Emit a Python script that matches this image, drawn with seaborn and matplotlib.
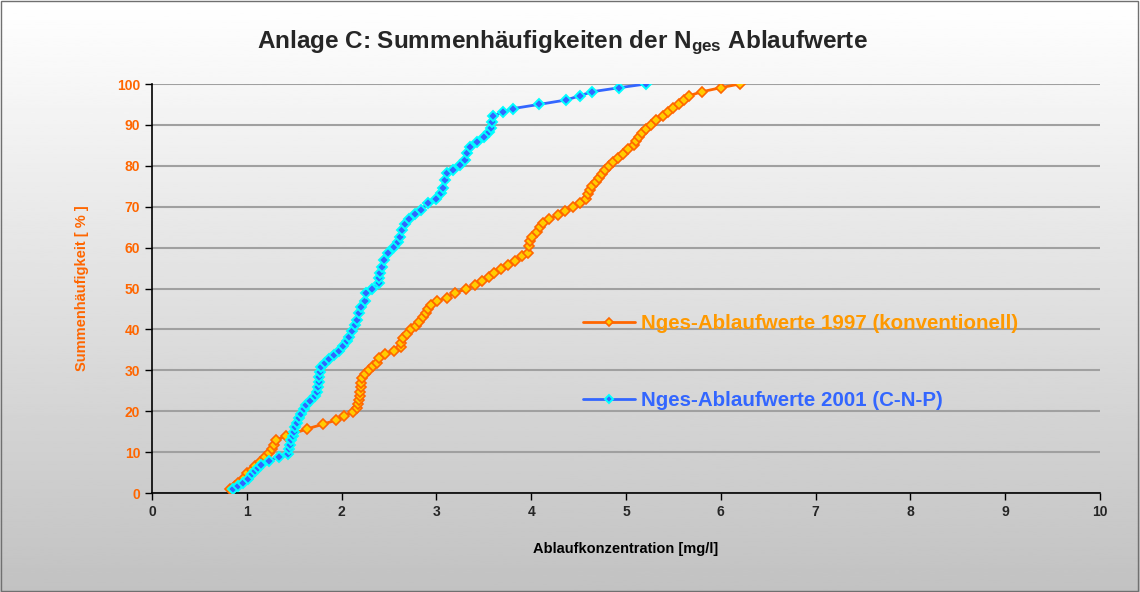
import numpy as np
import pandas as pd
import matplotlib
matplotlib.use("Agg")
import matplotlib.pyplot as plt
import seaborn as sns
from matplotlib.patches import Rectangle

# Summenhaeufigkeiten 1997 (konventionell): Konzentration [mg/l] / Summe [%]
x_1997 = [0.82, 0.88, 0.91, 0.97, 1.00, 1.05, 1.09, 1.14, 1.19, 1.23, 1.27, 1.29, 1.31,
          1.41, 1.64, 1.80, 1.94, 2.03, 2.12, 2.16, 2.17, 2.18, 2.19, 2.19, 2.21, 2.21,
          2.22, 2.25, 2.29, 2.33, 2.37, 2.40, 2.46, 2.55, 2.63, 2.63, 2.65, 2.69, 2.73,
          2.78, 2.82, 2.86, 2.89, 2.91, 2.94, 3.01, 3.11, 3.20, 3.31, 3.41, 3.48, 3.55,
          3.61, 3.68, 3.76, 3.83, 3.90, 3.97, 3.98, 3.99, 4.01, 4.06, 4.09, 4.13, 4.19,
          4.28, 4.36, 4.44, 4.51, 4.58, 4.60, 4.62, 4.64, 4.68, 4.72, 4.75, 4.78, 4.82,
          4.86, 4.92, 4.97, 5.02, 5.08, 5.11, 5.14, 5.17, 5.21, 5.26, 5.32, 5.39, 5.44,
          5.50, 5.56, 5.61, 5.66, 5.80, 6.00, 6.20]
y_1997 = [0.9, 1.8, 2.5, 3.6, 4.8, 5.7, 6.6, 7.7, 8.7, 9.7, 10.7, 11.7, 13.0,
          13.9, 15.7, 16.8, 17.8, 18.8, 19.9, 20.7, 21.8, 22.7, 23.8, 24.8, 25.8, 26.8,
          28.0, 29.1, 30.1, 31.0, 31.9, 32.9, 33.9, 34.8, 35.8, 36.8, 37.8, 38.9, 40.0,
          40.8, 41.9, 43.0, 43.9, 45.0, 46.0, 46.9, 47.8, 48.9, 49.9, 50.9, 51.9, 52.9,
          53.9, 54.8, 55.7, 56.8, 57.9, 58.8, 60.3, 61.5, 62.7, 63.9, 65.0, 66.0, 67.0,
          68.0, 69.0, 70.0, 71.0, 72.0, 73.0, 74.0, 75.0, 76.0, 77.0, 78.0, 79.0, 80.0,
          81.0, 82.0, 83.0, 84.0, 85.0, 86.0, 87.0, 88.0, 89.0, 90.0, 91.1, 92.1, 93.1,
          94.1, 95.1, 96.1, 97.1, 98.1, 99.1, 100.0]

# Summenhaeufigkeiten 2001 (C-N-P)
x_2001 = [0.85, 0.91, 0.96, 1.01, 1.06, 1.09, 1.12, 1.15, 1.23, 1.34, 1.43, 1.45, 1.46,
          1.47, 1.49, 1.50, 1.51, 1.53, 1.55, 1.57, 1.60, 1.63, 1.67, 1.72, 1.74, 1.75,
          1.76, 1.76, 1.77, 1.78, 1.82, 1.87, 1.92, 1.97, 2.02, 2.06, 2.08, 2.11, 2.14,
          2.16, 2.18, 2.21, 2.25, 2.26, 2.32, 2.39, 2.39, 2.41, 2.43, 2.45, 2.49, 2.55,
          2.59, 2.62, 2.64, 2.67, 2.71, 2.77, 2.84, 2.91, 3.00, 3.05, 3.07, 3.09, 3.11,
          3.18, 3.25, 3.30, 3.32, 3.35, 3.43, 3.50, 3.55, 3.58, 3.59, 3.60, 3.70, 3.81,
          4.08, 4.37, 4.51, 4.64, 4.93, 5.21]
y_2001 = [1.0, 1.7, 2.5, 3.4, 4.6, 5.5, 6.2, 6.9, 7.9, 8.9, 9.5, 10.7, 11.7,
          13.0, 13.9, 15.0, 16.1, 17.2, 18.3, 19.3, 20.5, 21.5, 22.6, 23.7, 24.8, 26.0,
          27.2, 28.4, 29.7, 30.7, 31.9, 32.7, 33.7, 34.8, 36.0, 37.1, 38.2, 39.6, 41.0,
          42.3, 44.0, 45.5, 47.0, 48.8, 49.8, 51.3, 52.6, 53.7, 55.3, 57.0, 58.6, 60.2,
          61.4, 62.7, 64.3, 65.7, 67.0, 68.1, 69.2, 71.0, 71.9, 73.3, 74.5, 76.5, 78.2,
          79.0, 80.2, 81.4, 83.1, 84.7, 85.9, 87.0, 88.2, 89.2, 90.8, 92.2, 93.1, 94.0,
          95.0, 96.1, 97.1, 98.1, 99.1, 100.0]

x_ticks = list(range(0, 11))
y_ticks = list(range(0, 101, 10))

df97 = pd.DataFrame({"x": x_1997, "y": y_1997})
df01 = pd.DataFrame({"x": x_2001, "y": y_2001})

sns.set_style("white")
plt.rcParams["font.family"] = ["Liberation Sans", "DejaVu Sans"]
plt.rcParams["mathtext.fontset"] = "custom"
plt.rcParams["mathtext.rm"] = "Liberation Sans:bold"
plt.rcParams["mathtext.it"] = "Liberation Sans:bold"
plt.rcParams["mathtext.bf"] = "Liberation Sans:bold"

fig = plt.figure(figsize=(11.4, 5.92), dpi=100)

# Hintergrund mit Verlauf
bg = fig.add_axes([0, 0, 1, 1], zorder=-10)
grad = np.linspace(1.0, 0.76, 256).reshape(-1, 1)
bg.imshow(grad, aspect="auto", cmap="gray", vmin=0, vmax=1, extent=[0, 1, 0, 1])
bg.axis("off")
fig.patches.append(Rectangle((0.0005, 0.001), 0.998, 0.997, transform=fig.transFigure,
                             fill=False, edgecolor="#707070", linewidth=1.0))

ax = fig.add_axes([0.1333, 0.1672, 0.8316, 0.6909])
ax.set_facecolor("none")

sns.lineplot(data=df97, x="x", y="y", ax=ax, estimator=None, sort=False,
             color="#FF6600", linewidth=2, marker="D", markersize=5,
             markerfacecolor="#FFCC00", markeredgecolor="#FF6600", markeredgewidth=1.2,
             label="Nges-Ablaufwerte 1997 (konventionell)", zorder=3)
sns.lineplot(data=df01, x="x", y="y", ax=ax, estimator=None, sort=False,
             color="#3366FF", linewidth=2, marker="D", markersize=5.5,
             markerfacecolor="#3366FF", markeredgecolor="#00FFFF", markeredgewidth=1.4,
             label="Nges-Ablaufwerte 2001 (C-N-P)", zorder=4)

ax.set_xlim(0, 10)
ax.set_ylim(0, 100)
ax.set_xticks(x_ticks)
ax.set_yticks(y_ticks)
ax.yaxis.grid(True, color="#A0A0A0", linewidth=1.5)
ax.xaxis.grid(False)
ax.set_axisbelow(True)
for s in ["top", "right"]:
    ax.spines[s].set_visible(False)
for s in ["left", "bottom"]:
    ax.spines[s].set_color("black")
    ax.spines[s].set_linewidth(1.2)
ax.tick_params(axis="both", direction="out", length=5, width=1, color="black",
               left=True, bottom=True)
for lab in ax.get_xticklabels():
    lab.set_fontweight("bold")
    lab.set_fontsize(10)
for lab in ax.get_yticklabels():
    lab.set_fontweight("bold")
    lab.set_fontsize(10)
    lab.set_color("#FF6600")

ax.set_xlabel("Ablaufkonzentration [mg/l]", fontsize=10.5, fontweight="bold",
              color="black", labelpad=17)
ax.set_ylabel("Summenhäufigkeit [ % ]", fontsize=10.5, fontweight="bold",
              color="#FF6600", labelpad=20)

fig.text(0.493, 0.928, r"Anlage C: Summenhäufigkeiten der N$_{ges}$ Ablaufwerte",
         ha="center", va="center", fontsize=17.5, fontweight="bold")

leg = ax.legend(loc="upper left", bbox_to_anchor=(0.446, 0.457), frameon=False,
                fontsize=14.8, handlelength=2.55, handletextpad=0.25, labelspacing=2.8,
                labelcolor=["#FF9900", "#3366FF"], borderaxespad=0)
for t in leg.get_texts():
    t.set_fontweight("bold")
for h in leg.legend_handles:
    h.set_markersize(4)

fig.savefig("out.png", dpi=100)
